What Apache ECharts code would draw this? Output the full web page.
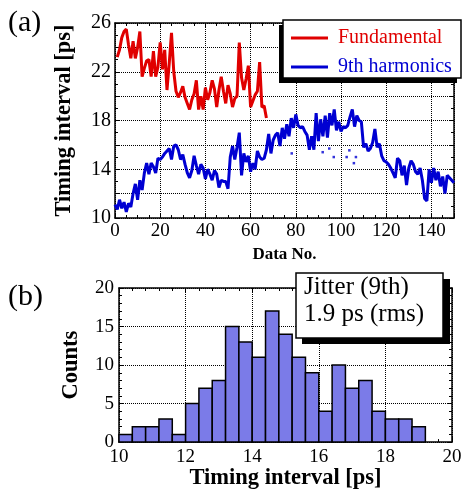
<!DOCTYPE html>
<html>
<head>
<meta charset="utf-8">
<script src="https://cdn.jsdelivr.net/npm/echarts@6/dist/echarts.min.js"></script>
<style>
  html, body { margin: 0; padding: 0; background: #fff; }
  #chart { width: 472px; height: 491px; }
</style>
</head>
<body>
<div id="chart"></div>
<script>
// (a) 各测量点的时间间隔 [ps]
var fundamentalStart = 1;
var fundamental = [
	23.2, 23.8, 24.8, 25.3, 25.5, 24.2, 23.1, 24.5, 23.1, 24.0,
	25.3, 21.6, 22.3, 22.9, 23.0, 21.6, 23.7, 21.6, 22.4, 24.4,
	22.2, 23.8, 20.5, 22.7, 25.2, 22.0, 20.4, 19.9, 20.3, 20.8,
	19.9, 19.4, 18.9, 19.7, 20.2, 21.3, 18.9, 20.0, 18.9, 20.7,
	19.7, 20.3, 21.3, 20.6, 19.1, 20.5, 21.6, 20.4, 19.4, 20.9,
	20.2, 19.1, 19.8, 20.0, 24.4, 21.5, 20.5, 21.4, 22.5, 19.1,
	19.6, 20.1, 20.4, 22.8, 19.1, 19.2, 18.2
];
var harmonicsStart = 0;
var harmonics = [
	11.1, 10.7, 11.5, 10.8, 11.3, 10.5, 11.2, 10.9, 12.0, 12.8,
	11.5, 13.1, 12.3, 13.7, 14.5, 13.6, 14.5, 14.2, 13.7, 14.9,
	14.8, 15.0, 15.3, 15.5, 15.7, 14.8, 15.9, 16.0, 15.6, 14.8,
	15.2, 14.4, 13.7, 13.3, 13.9, 15.1, 14.3, 13.6, 14.4, 14.1,
	13.2, 14.0, 13.6, 13.1, 13.9, 13.6, 12.5, 13.1, 13.0, 13.0,
	12.4, 15.0, 15.9, 14.8, 15.8, 17.0, 13.5, 15.3, 14.6, 15.1,
	13.8, 14.5, 14.0, 15.5, 15.0, 14.8, 14.9, 15.6, 16.9, 15.3,
	16.4, 16.8, 17.0, 15.9, 17.4, 16.5, 17.7, 16.7, 18.2, 17.4,
	18.5, 17.6, 17.4, 17.5, 17.1, 16.8, 15.6, 16.7, 15.6, 18.6,
	16.3, 18.1, 16.7, 18.4, 16.6, 18.6, 17.6, 18.9, 17.2, 17.9,
	17.1, 17.5, 17.4, 17.6, 18.3, 18.9, 17.5, 18.4, 18.0, 17.9,
	15.8, 16.1, 15.5, 15.7, 16.2, 17.3, 15.8, 16.1, 15.1, 14.7,
	14.6, 14.4, 14.1, 13.7, 13.3, 14.9, 14.7, 13.5, 14.3, 12.7,
	14.1, 14.7, 14.4, 13.8, 13.6, 14.1, 13.1, 11.6, 11.4, 14.0,
	12.9, 14.1, 13.1, 13.8, 12.6, 13.4, 12.0, 13.5, 13.3, 13.1,
	12.9
];
// 孤立的点
var strayX = [78.2, 91.9, 94.8, 96.8, 102.5, 103.7, 105.7, 106.6];
var strayY = [15.3, 15.4, 15.7, 15.0, 15.0, 15.55, 14.5, 15.0];

// (b) 直方图
var binEdges = [10, 10.4, 10.8, 11.2, 11.6, 12, 12.4, 12.8, 13.2, 13.6, 14, 14.4,
	14.8, 15.2, 15.6, 16, 16.4, 16.8, 17.2, 17.6, 18, 18.4, 18.8, 19.2];
var counts = [1, 2, 2, 3, 1, 5, 7, 8, 15, 13, 11, 17, 14, 11, 9, 4, 10, 7, 8, 4, 3, 3, 2];

var serif = 'Liberation Serif';
var red = '#e00000';
var blue = '#0000d2';

var fundData = fundamental.map(function(v, i) { return [fundamentalStart + i, v]; });
var harmData = harmonics.map(function(v, i) { return [harmonicsStart + i, v]; });
var strayData = strayX.map(function(x, i) { return [x, strayY[i]]; });
var histData = counts.map(function(c, i) { return [binEdges[i], binEdges[i + 1], c]; });

// 坐标轴公共样式
function frameAxis(extra) {
	var base = {
		axisLine: { show: true, onZero: false, lineStyle: { color: '#000', width: 1.5 } },
		axisTick: { show: true, inside: true, length: 5, lineStyle: { color: '#000', width: 1 } },
		minorTick: { show: true, length: 3, lineStyle: { color: '#000', width: 1 } },
		axisLabel: { color: '#000', fontFamily: serif, fontSize: 19, margin: 5 },
		splitLine: { show: true, lineStyle: { color: '#000', type: 'dotted', width: 1 } }
	};
	for (var k in extra) base[k] = extra[k];
	return base;
}
var noLabel = { show: false };
var noSplit = { show: false };
var nameFont = { color: '#000', fontFamily: serif, fontSize: 22.5, fontWeight: 'bold' };

var chart = echarts.init(document.getElementById('chart'));
var option = {
	animation: false,
	backgroundColor: '#fff',
	grid: [
		{ left: 115, right: 18, top: 23, bottom: 273 },
		{ left: 119, right: 20, top: 288, bottom: 45 }
	],
	xAxis: [
		frameAxis({ gridIndex: 0, type: 'value', min: 0, max: 150, interval: 20,
			minorTick: { show: true, splitNumber: 4, length: 3, lineStyle: { color: '#000' } },
			axisLabel: { color: '#000', fontFamily: serif, fontSize: 19, margin: 4, showMaxLabel: false },
			name: 'Data No.', nameLocation: 'middle', nameGap: 28,
			nameTextStyle: { color: '#000', fontFamily: serif, fontSize: 17, fontWeight: 'bold' } }),
		frameAxis({ gridIndex: 0, type: 'value', position: 'top', min: 0, max: 150, interval: 20,
			minorTick: { show: true, splitNumber: 4, length: 3, lineStyle: { color: '#000' } },
			axisLabel: noLabel, splitLine: noSplit }),
		frameAxis({ gridIndex: 1, type: 'value', min: 10, max: 20, interval: 2,
			minorTick: { show: true, splitNumber: 5, length: 3, lineStyle: { color: '#000' } },
			name: 'Timing interval [ps]', nameLocation: 'middle', nameGap: 24,
			nameTextStyle: nameFont }),
		frameAxis({ gridIndex: 1, type: 'value', position: 'top', min: 10, max: 20, interval: 2,
			minorTick: { show: true, splitNumber: 5, length: 3, lineStyle: { color: '#000' } },
			axisLabel: noLabel, splitLine: noSplit })
	],
	yAxis: [
		frameAxis({ gridIndex: 0, type: 'value', min: 10, max: 26, interval: 2,
			minorTick: { show: true, splitNumber: 2, length: 3, lineStyle: { color: '#000' } },
			axisLabel: { color: '#000', fontFamily: serif, fontSize: 20, margin: 4,
				formatter: function(v) { return v % 4 === 2 ? v : ''; } },
			name: 'Timing interval [ps]', nameLocation: 'middle', nameGap: 39,
			nameTextStyle: nameFont }),
		frameAxis({ gridIndex: 0, type: 'value', position: 'right', min: 10, max: 26, interval: 2,
			minorTick: { show: true, splitNumber: 2, length: 3, lineStyle: { color: '#000' } },
			axisLabel: noLabel, splitLine: noSplit }),
		frameAxis({ gridIndex: 1, type: 'value', min: 0, max: 20, interval: 5,
			minorTick: { show: true, splitNumber: 5, length: 3, lineStyle: { color: '#000' } },
			name: 'Counts', nameLocation: 'middle', nameGap: 36,
			nameTextStyle: nameFont }),
		frameAxis({ gridIndex: 1, type: 'value', position: 'right', min: 0, max: 20, interval: 5,
			minorTick: { show: true, splitNumber: 5, length: 3, lineStyle: { color: '#000' } },
			axisLabel: noLabel, splitLine: noSplit })
	],
	graphic: [
		{ type: 'text', left: 8, top: 8, style: { text: '(a)', font: '30px ' + serif, fill: '#000' } },
		{ type: 'text', left: 8, top: 282, style: { text: '(b)', font: '30px ' + serif, fill: '#000' } },
		// 图例框
		{ type: 'rect', shape: { x: 279, y: 25, width: 178, height: 58 }, style: { fill: '#000' }, z: 100 },
		{ type: 'rect', shape: { x: 283, y: 20, width: 178, height: 58 },
			style: { fill: '#fff', stroke: '#000', lineWidth: 1.5 }, z: 101 },
		{ type: 'line', shape: { x1: 291, y1: 38, x2: 328, y2: 38 }, style: { stroke: red, lineWidth: 3 }, z: 102 },
		{ type: 'text', x: 338, y: 38, z: 102,
			style: { text: 'Fundamental', font: '20px ' + serif, fill: red, verticalAlign: 'middle' } },
		{ type: 'line', shape: { x1: 291, y1: 67, x2: 328, y2: 67 }, style: { stroke: blue, lineWidth: 3 }, z: 102 },
		{ type: 'text', x: 338, y: 67, z: 102,
			style: { text: '9th harmonics', font: '20px ' + serif, fill: blue, verticalAlign: 'middle' } },
		// 抖动说明框
		{ type: 'rect', shape: { x: 302, y: 279, width: 148, height: 65 }, style: { fill: '#000' }, z: 100 },
		{ type: 'rect', shape: { x: 296, y: 273, width: 147, height: 65 },
			style: { fill: '#fff', stroke: '#000', lineWidth: 1.5 }, z: 101 },
		{ type: 'text', x: 304, y: 274, z: 102,
			style: { text: 'Jitter (9th)\n1.9 ps (rms)', font: '25px ' + serif, fill: '#000', lineHeight: 27 } }
	],
	series: [
		{
			name: 'Fundamental', type: 'line', xAxisIndex: 0, yAxisIndex: 0,
			data: fundData, showSymbol: false, symbol: 'none',
			lineStyle: { color: red, width: 3 }, itemStyle: { color: red }
		},
		{
			name: '9th harmonics', type: 'line', xAxisIndex: 0, yAxisIndex: 0,
			data: harmData, showSymbol: false, symbol: 'none',
			lineStyle: { color: blue, width: 3 }, itemStyle: { color: blue }
		},
		{
			name: 'stray', type: 'scatter', xAxisIndex: 0, yAxisIndex: 0,
			data: strayData, symbol: 'rect', symbolSize: 2.5, itemStyle: { color: blue }
		},
		{
			name: 'hist', type: 'custom', xAxisIndex: 2, yAxisIndex: 2,
			data: histData,
			encode: { x: [0, 1], y: 2 },
			renderItem: function(params, api) {
				var p0 = api.coord([api.value(0), api.value(2)]);
				var p1 = api.coord([api.value(1), 0]);
				return {
					type: 'rect',
					shape: { x: p0[0], y: p0[1], width: p1[0] - p0[0], height: p1[1] - p0[1] },
					style: { fill: '#7b7be8', stroke: '#000', lineWidth: 1.5 }
				};
			}
		}
	]
};
chart.setOption(option);
</script>
</body>
</html>
